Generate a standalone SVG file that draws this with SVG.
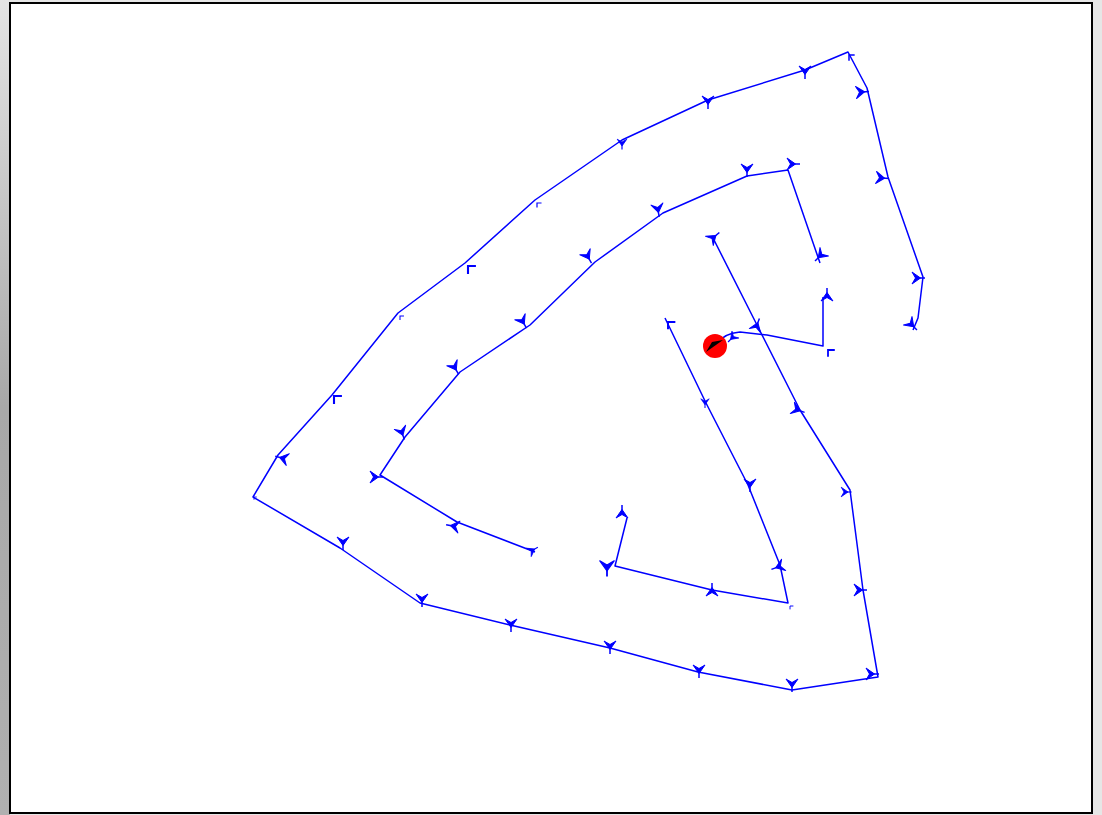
<svg xmlns="http://www.w3.org/2000/svg" xmlns:xlink="http://www.w3.org/1999/xlink" width="1102" height="815" viewBox="0 0 1102 815">
<defs>
<linearGradient id="lg" x1="0" y1="0" x2="0" y2="1">
<stop offset="0" stop-color="#e4e4e4"/><stop offset="0.5" stop-color="#a8a8a8"/><stop offset="1" stop-color="#b0b0b0"/>
</linearGradient>
<g id="m"><path d="M2.5,0 L-6,-6 L-2.5,0 L-6,6 Z" fill="#0000ff" stroke="#0000ff" stroke-width="1" stroke-linejoin="round"/><path d="M-2.5,0 L7,0" stroke="#0000ff" stroke-width="1.5"/></g>
<g id="s"><path d="M4,-4 L0,0 L4,4" fill="none" stroke="#0000ff" stroke-width="1.5"/></g>
</defs>
<style>
.ln{fill:none;stroke:#0000ff;stroke-width:1.5;stroke-linejoin:round}
</style>
<rect x="0" y="0" width="1102" height="815" fill="#e6e6e6"/>
<rect x="0" y="0" width="10" height="815" fill="url(#lg)"/>
<rect x="10" y="3" width="1082" height="810" fill="#ffffff" stroke="#000000" stroke-width="2"/>
<g id="connectors">
<polyline class="ln" points="712,236 757,325 800,410 850,490 863,590 878,677 792,690 698,672 610,648 510,625 420,603 340,548 253,497 278,455 332,395 398,313 465,263 535,200 622,140 708,100 805,70 848,52 867,88 888,177 923,277 918,318 913,330"/>
<polyline class="ln" points="820,263 788,170 747,176 663,213 595,262 530,325 460,372 405,437 380,475 457,522 535,552"/>
<polyline class="ln" points="665,318 706,403 748,485 780,565 788,603 712,590 615,566 627,518"/>
<path class="ln" d="M715,345 Q724,333 740,332 L767,335 L823,346 L823,297"/>
</g>
<g id="markers">
<use href="#s" transform="translate(849,55) rotate(45)"/>
<use href="#m" transform="translate(805,72) rotate(90)"/>
<use href="#m" transform="translate(708,102) rotate(90)"/>
<use href="#m" transform="translate(622,144) rotate(90) scale(0.8)"/>
<use href="#s" transform="translate(537,203) rotate(45) scale(0.8)"/>
<use href="#s" transform="translate(468,266) rotate(45) scale(1.4)"/>
<use href="#s" transform="translate(400,316) rotate(45) scale(0.7)"/>
<use href="#s" transform="translate(334,396) rotate(45) scale(1.4)"/>
<use href="#m" transform="translate(282,458) rotate(-165)"/>
<use href="#s" transform="translate(254,497) rotate(45) scale(0.5)"/>
<use href="#m" transform="translate(343,543) rotate(90)"/>
<use href="#m" transform="translate(422,600) rotate(90)"/>
<use href="#m" transform="translate(511,625) rotate(90)"/>
<use href="#m" transform="translate(610,647) rotate(90)"/>
<use href="#m" transform="translate(699,671) rotate(90)"/>
<use href="#m" transform="translate(792,685) rotate(90)"/>
<use href="#m" transform="translate(872,674) rotate(0)"/>
<use href="#m" transform="translate(860,590) rotate(0)"/>
<use href="#m" transform="translate(846,492) rotate(0) scale(0.8)"/>
<use href="#m" transform="translate(798,410) rotate(20)"/>
<use href="#m" transform="translate(757,325) rotate(-70)"/>
<use href="#m" transform="translate(714,237) rotate(-40)"/>
<use href="#m" transform="translate(862,92) rotate(-5)"/>
<use href="#m" transform="translate(882,178) rotate(5)"/>
<use href="#m" transform="translate(918,278) rotate(0)"/>
<use href="#m" transform="translate(912,325) rotate(45)"/>
<use href="#m" transform="translate(793,164) rotate(0)"/>
<use href="#m" transform="translate(747,170) rotate(90)"/>
<use href="#m" transform="translate(658,210) rotate(80)"/>
<use href="#m" transform="translate(588,257) rotate(60)"/>
<use href="#m" transform="translate(523,322) rotate(60)"/>
<use href="#m" transform="translate(455,368) rotate(60)"/>
<use href="#m" transform="translate(402,433) rotate(70)"/>
<use href="#m" transform="translate(376,477) rotate(0)"/>
<use href="#m" transform="translate(453,526) rotate(-170)"/>
<use href="#m" transform="translate(533,550) rotate(-30) scale(0.8)"/>
<use href="#m" transform="translate(820,256) rotate(135)"/>
<use href="#s" transform="translate(668,322) rotate(45) scale(1.3)"/>
<use href="#m" transform="translate(705,403) rotate(90) scale(0.7)"/>
<use href="#m" transform="translate(750,485) rotate(90)"/>
<use href="#m" transform="translate(778,567) rotate(160)"/>
<use href="#s" transform="translate(790,606) rotate(45) scale(0.6)"/>
<use href="#m" transform="translate(712,590) rotate(-90)"/>
<use href="#m" transform="translate(607,568) rotate(90) scale(1.2)"/>
<use href="#m" transform="translate(622,512) rotate(-90)"/>
<use href="#m" transform="translate(732,338) rotate(135) scale(0.8)"/>
<use href="#s" transform="translate(828,350) rotate(45) scale(1.2)"/>
<use href="#m" transform="translate(827,295) rotate(-90)"/>
</g>
<g id="robot">
<circle cx="715" cy="346" r="12" fill="#ff0000"/>
<path d="M706,352 L723,340 L712,342 Z" fill="#000000"/>
</g>
</svg>
